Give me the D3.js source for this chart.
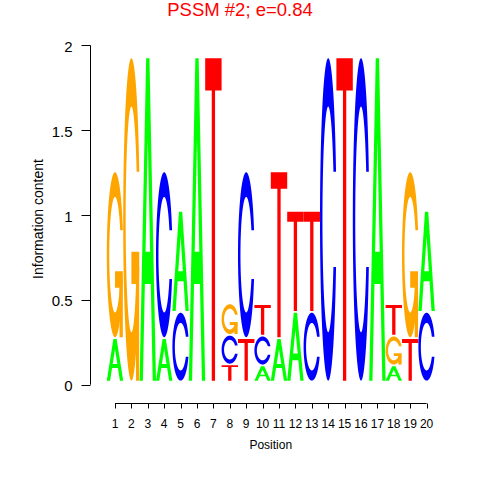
<!DOCTYPE html>
<html>
<head>
<meta charset="utf-8">
<script src="https://cdn.jsdelivr.net/npm/d3@7"></script>
<style>
  html, body { margin: 0; padding: 0; background: #fff; }
  svg { display: block; font-family: "Liberation Sans", Arial, Helvetica, sans-serif; }
</style>
</head>
<body>
<svg id="chart" width="480" height="480"></svg>
<script>
// ---- data (information content per letter, per position) ----
const positions = [1,2,3,4,5,6,7,8,9,10,11,12,13,14,15,16,17,18,19,20];
const hA = [0.246,0,1.90,0.246,0.585,1.90,0,0,0,0.085,0.246,0.40,0,0,0,0,1.90,0.085,0,0.585];
const hC = [0,0,0,0.972,0.40,0,0,0.165,0.972,0.165,0,0,0.40,1.90,0,1.90,0,0,0,0.40];
const hG = [0.972,1.90,0,0,0,0,0,0.175,0,0,0,0,0,0,0,0,0,0.165,0.972,0];
const hT = [0,0,0,0,0,0,1.90,0.09,0.246,0.175,0.972,0.585,0.585,0,1.90,0,0,0.175,0.246,0];
const yTicks = [0, 0.5, 1, 1.5, 2];
const yTickLabels = ["0", "0.5", "1", "1.5", "2"];
const title = "PSSM #2; e=0.84";

const colors = { A: "#00FF00", C: "#0000FF", G: "#FFA500", T: "#FF0000" };
const BASE = 0.024, GAP = 0.01;

const svg = d3.select("#chart");
const x = d3.scaleLinear().domain([0.5, 20.5]).range([106.8, 434.8]);
const y = d3.scaleLinear().domain([0, 2]).range([384.7, 45.3]);

// ---- seqLogo-style letter shapes in unit box (y up) ----
const rev = a => a.slice().reverse();
function ringShape() {
  const n = 100, a1 = [], a2 = [];
  const s1 = 0.3 + Math.PI / 2;
  for (let k = 0; k < n; k++) {
    a1.push(s1 + (Math.PI - s1) * k / (n - 1));
    a2.push(Math.PI + 0.5 * Math.PI * k / (n - 1));
  }
  const xl1 = a1.map(a => 0.5 + 0.5 * Math.sin(a)), yl1 = a1.map(a => 0.5 + 0.5 * Math.cos(a));
  const xl2 = a2.map(a => 0.5 + 0.5 * Math.sin(a)), yl2 = a2.map(a => 0.5 + 0.5 * Math.cos(a));
  const xl = [...xl1, ...xl2], yl = [...yl1, ...yl2];
  let X = [...xl, ...rev(xl)];
  let Y = [...yl, ...rev(yl).map(v => 1 - v)];
  const maxY = Math.max(...yl1);
  let xi1 = a1.map(a => 0.5 + 0.35 * Math.sin(a)), yi1 = a1.map(a => 0.5 + 0.35 * Math.cos(a));
  const keep = yi1.map(v => v <= maxY);
  xi1 = xi1.filter((v, k) => keep[k]); yi1 = yi1.filter((v, k) => keep[k]);
  yi1[0] = maxY;
  const xi2 = a2.map(a => 0.5 + 0.35 * Math.sin(a)), yi2 = a2.map(a => 0.5 + 0.35 * Math.cos(a));
  const xi = [...xi1, ...xi2], yi = [...yi1, ...yi2];
  const x1 = [...xi, ...rev(xi)], y1 = [...yi, ...rev(yi).map(v => 1 - v)];
  X = [...X, ...rev(x1)]; Y = [...Y, ...rev(y1)];
  return { pts: X.map((v, k) => [v, Y[k]]), r1: Math.max(...xl1) };
}
const ring = ringShape();
function shapes(letter) {
  if (letter === "A") {
    const ox = [0,4,6,10,8,6.8,3.2,2,0], oy = [0,10,10,0,0,3,3,0,0];
    const ix = [3.6,5,6.4,3.6], iy = [4,7.5,4,4];
    return [[ox.map((v, k) => [v / 10, oy[k] / 10]), ix.map((v, k) => [v / 10, iy[k] / 10])]];
  }
  if (letter === "T") {
    const tx = [0,10,10,6,6,4,4,0], ty = [10,10,9,9,0,0,9,9];
    return [[tx.map((v, k) => [v / 10, ty[k] / 10])]];
  }
  if (letter === "C") return [[ring.pts]];
  if (letter === "G") {
    const r1 = ring.r1, h1 = 0.4;
    const ax = [r1,0.5,0.5,r1-0.2,r1-0.2,r1,r1], ay = [h1,h1,h1-0.1,h1-0.1,0,0,h1];
    return [[ring.pts], [ax.map((v, k) => [v, ay[k]])]];
  }
}

// ---- build letter stacks ----
const stacks = [];
positions.forEach((p, i) => {
  const col = [
    { l: "A", h: hA[i] }, { l: "C", h: hC[i] }, { l: "G", h: hG[i] }, { l: "T", h: hT[i] }
  ].filter(d => d.h > 0).sort((a, b) => a.h - b.h);
  let y0 = BASE;
  col.forEach(d => {
    stacks.push({ pos: p, letter: d.l, y0: y0, h: d.h });
    y0 += d.h + GAP;
  });
});

const gLetters = svg.append("g");
stacks.forEach(d => {
  shapes(d.letter).forEach(rings => {
    const path = rings.map(poly =>
      "M" + poly.map(([u, v]) => x(d.pos - 0.5 + u).toFixed(2) + "," + y(d.y0 + v * d.h).toFixed(2)).join("L") + "Z"
    ).join("");
    gLetters.append("path")
      .attr("d", path)
      .attr("fill", colors[d.letter])
      .attr("fill-rule", "evenodd");
  });
});

// ---- y axis ----
const yAxis = svg.append("g").attr("transform", "translate(90.5,0)");
yAxis.append("line").attr("x1", 0).attr("x2", 0).attr("y1", y(0)).attr("y2", y(2))
  .attr("stroke", "#000").attr("stroke-width", 1);
yTicks.forEach((t, i) => {
  yAxis.append("line").attr("x1", -9).attr("x2", 0).attr("y1", Math.round(y(t)) + 0.5).attr("y2", Math.round(y(t)) + 0.5)
    .attr("stroke", "#000");
  yAxis.append("text").attr("x", -18).attr("y", y(t) + 1)
    .attr("text-anchor", "end").attr("dominant-baseline", "central")
    .attr("font-size", 15).attr("fill", "#000").text(yTickLabels[i]);
});
svg.append("text").attr("transform", "translate(43,219) rotate(-90)")
  .attr("text-anchor", "middle").attr("font-size", 14).attr("fill", "#000")
  .text("Information content");

// ---- x axis ----
const xa = svg.append("g");
const ax0 = x(positions[0]), ax1 = x(positions[positions.length - 1]);
xa.append("line").attr("x1", ax0).attr("x2", ax1).attr("y1", 403.5).attr("y2", 403.5).attr("stroke", "#000");
positions.forEach(p => {
  const px = Math.round(x(p)) + 0.5;
  xa.append("line").attr("x1", px).attr("x2", px).attr("y1", 403.5).attr("y2", 408.5).attr("stroke", "#000");
  xa.append("text").attr("x", x(p)).attr("y", 427.5).attr("text-anchor", "middle")
    .attr("font-size", 12).attr("fill", "#000").text(p);
});
svg.append("text").attr("x", (ax0 + ax1) / 2).attr("y", 449).attr("text-anchor", "middle")
  .attr("font-size", 12).attr("fill", "#000").text("Position");

// ---- title ----
svg.append("text").attr("x", 240).attr("y", 16).attr("text-anchor", "middle")
  .attr("font-size", 18.5).attr("fill", "#FF0000").text(title);
</script>
</body>
</html>
